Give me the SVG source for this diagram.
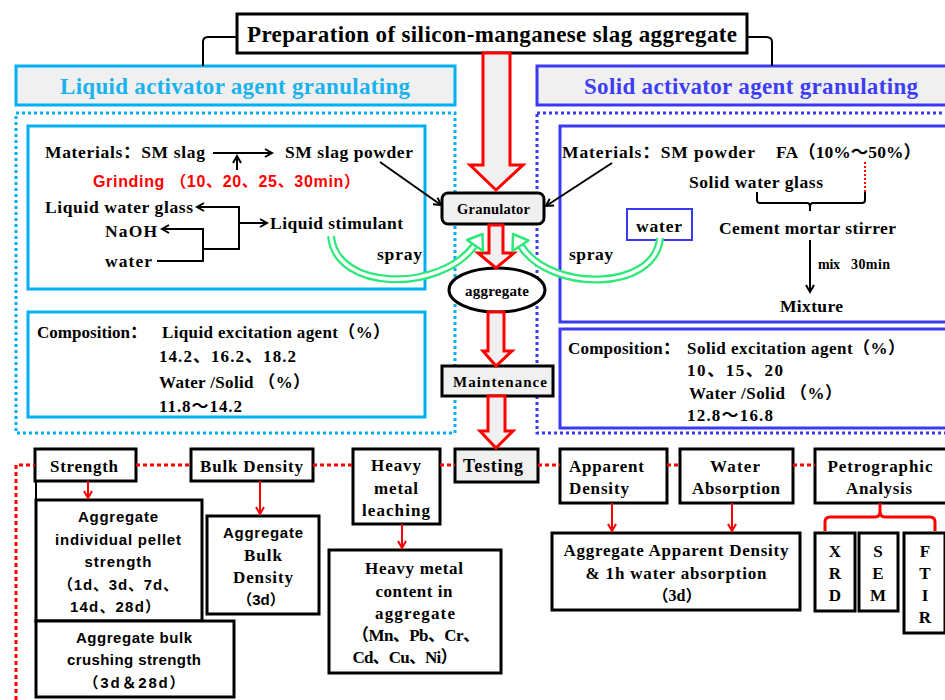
<svg xmlns="http://www.w3.org/2000/svg" width="945" height="700" viewBox="0 0 945 700">
<defs>
<style>
.s{font-family:"Liberation Serif","Noto Sans CJK SC",serif;font-weight:bold;fill:#000}
.ss{font-family:"Liberation Sans","Noto Sans CJK SC",sans-serif;font-weight:bold;fill:#000}
.c{text-anchor:middle}
.lb{fill:none;stroke:#00b0f0;stroke-width:3}
.sb{fill:none;stroke:#3a3af2;stroke-width:3}
.bk{fill:#fff;stroke:#000;stroke-width:3}
.gr{fill:#f0f0f0;stroke:#000;stroke-width:3}
.ln{fill:none;stroke:#000;stroke-width:2}
.rl{fill:none;stroke:#ff0000;stroke-width:2}
.big{fill:#f0f0f0;stroke:#ff0000;stroke-width:3;stroke-linejoin:miter}
.rd{fill:none;stroke:#ff0000;stroke-width:3;stroke-dasharray:4 3}
</style>
<marker id="ah" markerWidth="10" markerHeight="10" refX="8" refY="5" orient="auto" markerUnits="userSpaceOnUse">
<path d="M1,1 L8,5 L1,9" fill="none" stroke="#000" stroke-width="2"/>
</marker>
<marker id="ahr" markerWidth="12" markerHeight="10" refX="8" refY="5" orient="auto" markerUnits="userSpaceOnUse">
<path d="M1,1 L8,5 L1,9" fill="none" stroke="#ff0000" stroke-width="2"/>
</marker>
</defs>
<rect width="945" height="700" fill="#fff"/>

<g id="title">
<rect x="237" y="14" width="510" height="39" class="bk"/>
<text x="247" y="42" class="s" font-size="23" textLength="490">Preparation of silicon-manganese slag aggregate</text>
</g>

<g id="liquid-header">
<rect x="16" y="66" width="439" height="39" fill="#f0f0f0" stroke="#00b0f0" stroke-width="3"/>
<text x="60" y="94" class="s" font-size="23" textLength="350" style="fill:#1ab2ee">Liquid activator agent granulating</text>
</g>
<g id="solid-header">
<rect x="537" y="66" width="420" height="39" fill="#f0f0f0" stroke="#3a3af2" stroke-width="3"/>
<text x="584" y="94" class="s" font-size="23" textLength="334" style="fill:#3d3df5">Solid activator agent granulating</text>
</g>

<g id="liquid-area">
<rect x="16" y="113" width="439" height="320" class="lb" stroke-dasharray="3 3"/>
</g>
<g id="solid-area">
<rect x="537" y="113" width="420" height="320" class="sb" stroke-dasharray="3 3"/>
</g>

<g id="liquid-materials">
<rect x="28" y="126" width="397" height="163" class="lb"/>
<text x="45" y="158" class="s" font-size="17.5" textLength="160">Materials：SM slag</text>
<text x="285" y="158" class="s" font-size="17.5" textLength="128">SM slag powder</text>
<text x="93" y="187" class="ss" font-size="16" textLength="267" style="fill:#ff0000">Grinding （10、20、25、30min）</text>
<text x="45" y="213" class="s" font-size="17.5" textLength="148">Liquid water glass</text>
<text x="105" y="237" class="s" font-size="17.5" textLength="52">NaOH</text>
<text x="105" y="267" class="s" font-size="17.5" textLength="47">water</text>
<text x="270" y="229" class="s" font-size="17.5" textLength="133">Liquid stimulant</text>
<text x="377" y="260" class="s" font-size="17.5" textLength="45">spray</text>
</g>

<g id="liquid-composition">
<rect x="28" y="312" width="397" height="105" class="lb"/>
<text x="37" y="338" class="s" font-size="17" textLength="110">Composition：</text>
<text x="162" y="338" class="s" font-size="17" textLength="228">Liquid excitation agent（%）</text>
<text x="159" y="362" class="s" font-size="17" textLength="137">14.2、16.2、18.2</text>
<text x="159" y="388" class="s" font-size="17" textLength="151">Water /Solid （%）</text>
<text x="159" y="412" class="s" font-size="17" textLength="83">11.8～14.2</text>
</g>

<g id="solid-materials">
<rect x="560" y="126" width="397" height="196" class="sb"/>
<text x="562" y="158" class="s" font-size="17.5" textLength="193">Materials：SM powder</text>
<text x="776" y="158" class="s" font-size="17.5" textLength="145">FA（10%～50%）</text>
<text x="689" y="188" class="s" font-size="17.5" textLength="134">Solid water glass</text>
<text x="719" y="234" class="s" font-size="17.5" textLength="177">Cement mortar stirrer</text>
<text x="818" y="269" class="s" font-size="14" textLength="22">mix</text>
<text x="851" y="269" class="s" font-size="14" textLength="39">30min</text>
<text x="780" y="312" class="s" font-size="17.5" textLength="63">Mixture</text>
<text x="569" y="260" class="s" font-size="17.5" textLength="44">spray</text>
</g>
<g id="water-box">
<rect x="627" y="209" width="65" height="31" fill="#fff" stroke="#3a3af2" stroke-width="2"/>
<text x="636" y="232" class="s" font-size="17.5" textLength="46">water</text>
</g>

<g id="solid-composition">
<rect x="560" y="329" width="397" height="99" class="sb"/>
<text x="568" y="354" class="s" font-size="17" textLength="112">Composition：</text>
<text x="687" y="354" class="s" font-size="17" textLength="218">Solid excitation agent（%）</text>
<text x="687" y="376" class="s" font-size="17" textLength="96">10、15、20</text>
<text x="689" y="399" class="s" font-size="17" textLength="153">Water /Solid （%）</text>
<text x="687" y="421" class="s" font-size="17" textLength="86">12.8～16.8</text>
</g>

<g id="granulator">
<rect x="442" y="193" width="102" height="31" rx="6" class="gr"/>
<text x="457" y="214" class="s" font-size="14.5" textLength="73">Granulator</text>
</g>
<g id="aggregate">
<ellipse cx="497" cy="290" rx="48" ry="22" class="bk"/>
<text x="465" y="296" class="s" font-size="15" textLength="64">aggregate</text>
</g>
<g id="maintenance">
<rect x="442" y="366" width="111" height="30" class="gr"/>
<text x="453" y="387" class="s" font-size="15" textLength="94">Maintenance</text>
</g>
<g id="testing">
<rect x="455" y="449" width="83" height="33" class="gr"/>
<text x="463" y="472" class="s" font-size="18" textLength="60">Testing</text>
</g>

<g id="strength">
<rect x="35" y="449" width="101" height="32" class="bk"/>
<text x="50" y="472" class="s" font-size="17" textLength="68">Strength</text>
</g>
<g id="pellet-strength">
<rect x="36" y="500" width="166" height="121" class="bk"/>
<text x="118" y="522" class="ss c" font-size="15" textLength="80">Aggregate</text>
<text x="118" y="545" class="ss c" font-size="15" textLength="126">individual pellet</text>
<text x="118" y="567" class="ss c" font-size="15" textLength="67">strength</text>
<text x="118" y="590" class="ss c" font-size="15" textLength="120">（1d、3d、7d、</text>
<text x="115" y="612" class="ss c" font-size="15" textLength="90">14d、28d）</text>
</g>
<g id="crushing-strength">
<rect x="36" y="621" width="198" height="76" class="bk"/>
<text x="134" y="643" class="ss c" font-size="15" textLength="116">Aggregate bulk</text>
<text x="134" y="665" class="ss c" font-size="15" textLength="134">crushing strength</text>
<text x="134" y="688" class="ss c" font-size="15" textLength="101">（3d＆28d）</text>
</g>
<g id="bulk-density">
<rect x="191" y="449" width="122" height="32" class="bk"/>
<text x="200" y="472" class="s" font-size="17" textLength="103">Bulk Density</text>
</g>
<g id="aggregate-bulk-density">
<rect x="207" y="516" width="112" height="98" class="bk"/>
<text x="263" y="538" class="ss c" font-size="15" textLength="80">Aggregate</text>
<text x="263" y="561" class="s c" font-size="17" textLength="38">Bulk</text>
<text x="263" y="583" class="s c" font-size="17" textLength="60">Density</text>
<text x="261" y="605" class="ss c" font-size="15">（3d）</text>
</g>
<g id="heavy-metal-leaching">
<rect x="353" y="449" width="87" height="75" class="bk"/>
<text x="396" y="471" class="s c" font-size="17" textLength="50">Heavy</text>
<text x="396" y="494" class="s c" font-size="17" textLength="44">metal</text>
<text x="396" y="516" class="s c" font-size="17" textLength="68">leaching</text>
</g>
<g id="heavy-metal-content">
<rect x="329" y="550" width="172" height="123" class="bk"/>
<text x="414" y="574" class="s c" font-size="17" textLength="98">Heavy metal</text>
<text x="414" y="597" class="s c" font-size="17" textLength="77">content in</text>
<text x="415" y="619" class="s c" font-size="17" textLength="80">aggregate</text>
<text x="416" y="641" class="s c" font-size="17" textLength="128">（Mn、Pb、Cr、</text>
<text x="405" y="663" class="s c" font-size="17" textLength="105">Cd、Cu、Ni）</text>
</g>
<g id="apparent-density">
<rect x="560" y="449" width="107" height="54" class="bk"/>
<text x="569" y="472" class="s" font-size="17" textLength="75">Apparent</text>
<text x="569" y="494" class="s" font-size="17" textLength="60">Density</text>
</g>
<g id="water-absorption">
<rect x="680" y="449" width="113" height="54" class="bk"/>
<text x="735" y="472" class="s c" font-size="17" textLength="50">Water</text>
<text x="736" y="494" class="s c" font-size="17" textLength="88">Absorption</text>
</g>
<g id="petrographic-analysis">
<rect x="815" y="449" width="140" height="54" class="bk"/>
<text x="880" y="472" class="s c" font-size="17" textLength="105">Petrographic</text>
<text x="879" y="494" class="s c" font-size="17" textLength="66">Analysis</text>
</g>
<g id="apparent-density-result">
<rect x="552" y="533" width="248" height="77" class="bk"/>
<text x="676" y="556" class="s c" font-size="17" textLength="225">Aggregate Apparent Density</text>
<text x="676" y="579" class="s c" font-size="17" textLength="181">&amp; 1h water absorption</text>
<text x="677" y="601" class="s c" font-size="16">（3d）</text>
</g>
<g id="xrd">
<rect x="815" y="533" width="40" height="78" class="bk"/>
<text x="835" y="557" class="s c" font-size="17">X</text>
<text x="835" y="579" class="s c" font-size="17">R</text>
<text x="835" y="601" class="s c" font-size="17">D</text>
</g>
<g id="sem">
<rect x="859" y="533" width="39" height="78" class="bk"/>
<text x="878" y="557" class="s c" font-size="17">S</text>
<text x="878" y="579" class="s c" font-size="17">E</text>
<text x="878" y="601" class="s c" font-size="17">M</text>
</g>
<g id="ftir">
<rect x="904" y="533" width="41" height="100" class="bk"/>
<text x="925" y="557" class="s c" font-size="17">F</text>
<text x="925" y="579" class="s c" font-size="17">T</text>
<text x="925" y="601" class="s c" font-size="17">I</text>
<text x="925" y="623" class="s c" font-size="17">R</text>
</g>

<g id="connectors">
<path d="M237 37 H208 Q203 37 203 42 V66" class="ln" stroke-width="3"/>
<path d="M747 37 H766 Q772 37 772 42 V66" class="ln" stroke-width="3"/>
<path d="M483 53 V165 H470 L496 190 L523 165 H510 V53 Z" class="big"/>
<path d="M489 225 V253 H478 L496 268 L514 253 H503 V225 Z" class="big"/>
<path d="M488 312 V351 H483 L496 366 L512 351 H504 V312 Z" class="big"/>
<path d="M488 396 V431 H480 L496 448 L513 431 H505 V396 Z" class="big"/>
<line x1="213" y1="153" x2="272" y2="153" class="ln" marker-end="url(#ah)"/>
<line x1="237" y1="170" x2="237" y2="156" class="ln" marker-end="url(#ah)"/>
<path d="M157 261 H203 V229 H162" class="ln" marker-end="url(#ah)"/>
<path d="M203 249 H239 V207 H197" class="ln" marker-end="url(#ah)"/>
<line x1="239" y1="223" x2="267" y2="223" class="ln" marker-end="url(#ah)"/>
<line x1="380" y1="162" x2="441" y2="205" class="ln" stroke-width="1.5" marker-end="url(#ah)"/>
<line x1="612" y1="163" x2="546" y2="206" class="ln" stroke-width="1.5" marker-end="url(#ah)"/>
<path d="M757 192 V200 Q757 203 760 203 H807 Q810 203 810 207 V211 M810 207 Q810 203 813 203 H862 Q865 203 865 200 V192" class="ln"/>
<line x1="865" y1="192" x2="865" y2="162" stroke="#ff0000" stroke-width="2" stroke-dasharray="2 2"/>
<line x1="810" y1="240" x2="810" y2="292" class="ln" marker-end="url(#ah)"/>
<g fill="none" stroke-linejoin="round">
<path d="M331 236 C336 292 440 292 474 246" stroke="#2ee87a" stroke-width="8"/>
<path d="M331 236 C336 292 440 292 474 246" stroke="#fff" stroke-width="3.5"/>
<path d="M483 251 L467 240 L482.5 234 Z" fill="#fff" stroke="#2ee87a" stroke-width="2.5"/>
<path d="M660 238 C655 292 550 292 521 246" stroke="#2ee87a" stroke-width="8"/>
<path d="M660 238 C655 292 550 292 521 246" stroke="#fff" stroke-width="3.5"/>
<path d="M528.5 240.5 L512.5 251 L513 234 Z" fill="#fff" stroke="#2ee87a" stroke-width="2.5"/>
</g>
<path d="M16 700 V465 H35 M136 465 H191 M313 465 H353 M440 465 H455 M538 465 H560 M667 465 H680 M793 465 H815" class="rd"/>
<line x1="88" y1="481" x2="88" y2="498" class="rl" marker-end="url(#ahr)"/>
<line x1="36" y1="481" x2="36" y2="500" class="ln" stroke-width="3"/>
<line x1="260" y1="481" x2="260" y2="514" class="rl" marker-end="url(#ahr)"/>
<line x1="402" y1="524" x2="402" y2="548" class="rl" marker-end="url(#ahr)"/>
<line x1="612" y1="503" x2="612" y2="531" class="rl" marker-end="url(#ahr)"/>
<line x1="732" y1="503" x2="732" y2="531" class="rl" marker-end="url(#ahr)"/>
<path d="M825 531 V522 Q825 517 830 517 H875 Q880 517 880 511 V503 M880 511 Q880 517 885 517 H930 Q935 517 935 522 V531" fill="none" stroke="#ff0000" stroke-width="3"/>
</g>
</svg>
